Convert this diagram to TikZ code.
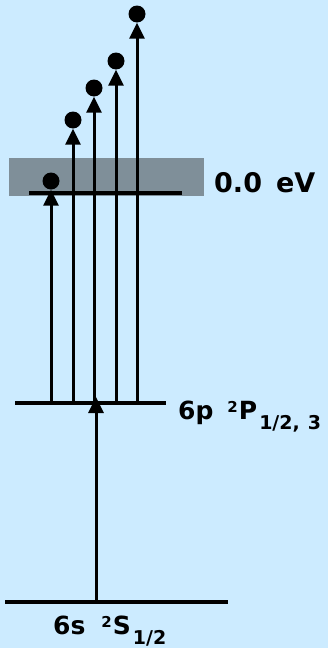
\documentclass[tikz,border=0pt]{standalone}
\usepackage{fontspec}
\setmainfont{DejaVu Sans}
\usetikzlibrary{arrows.meta}
\definecolor{bgblue}{RGB}{204,235,255}
\definecolor{bandgray}{RGB}{127,143,153}
\tikzset{
  level/.style={line width=3.2pt},
  arr/.style={line width=3pt,-{Triangle[width=15pt,length=16pt]}},
  dot/.style={circle,fill=black,minimum size=17pt,inner sep=0pt},
  lab/.style={anchor=base west,inner sep=0pt},
}
\newcommand{\supx}[1]{\raisebox{7pt}{\fontsize{15}{15}\selectfont #1}}
\newcommand{\subx}[1]{\raisebox{-10pt}{\fontsize{19}{19}\selectfont #1}}
\begin{document}
\begin{tikzpicture}[x=1pt,y=-1pt]
\fill[bgblue] (0,0) rectangle (328,648);
\useasboundingbox (0,0) rectangle (328,648);
% ionisation band
\fill[bandgray] (9,158) rectangle (204,196);
% levels
\coordinate (z1) at (29,193); \coordinate (z2) at (182,193);
\coordinate (p1) at (15,403); \coordinate (p2) at (166,403);
\coordinate (s1) at (5,602);  \coordinate (s2) at (228,602);
\draw[level] (z1) -- (z2);
\draw[level] (p1) -- (p2);
\draw[level] (s1) -- (s2);
% electrons
\node[dot] (c1) at (51,181) {};
\node[dot] (c2) at (73,120) {};
\node[dot] (c3) at (94,88) {};
\node[dot] (c4) at (116,61) {};
\node[dot] (c5) at (137,14) {};
\coordinate (b1) at (51,404);
\coordinate (b2) at (73,404);
\coordinate (b3) at (94,404);
\coordinate (b4) at (116,404);
\coordinate (b5) at (137,404);
\draw[arr] (b1) -- (c1.south);
\draw[arr] (b2) -- (c2.south);
\draw[arr] (b3) -- (c3.south);
\draw[arr] (b4) -- (c4.south);
\draw[arr] (b5) -- (c5.south);
% first step
\coordinate (g) at (96,602);
\coordinate (e) at (96,397);
\draw[arr] (g) -- (e);
% labels
\node[lab,font=\bfseries\fontsize{27}{30}\selectfont] (l0) at (214,192) {0.0\hspace{14pt}eV};
\node[lab,font=\bfseries\fontsize{25}{28}\selectfont] (lp) at (178,419) {6p\hspace{14pt}\supx{2}\hspace{1pt}P\hspace{2pt}\subx{1/2,\hspace{8pt}3}};
\node[lab,font=\bfseries\fontsize{25}{28}\selectfont] (ls) at (53,634) {6s\hspace{16pt}\supx{2}\hspace{1pt}S\hspace{2pt}\subx{1/2}};
\end{tikzpicture}
\end{document}
